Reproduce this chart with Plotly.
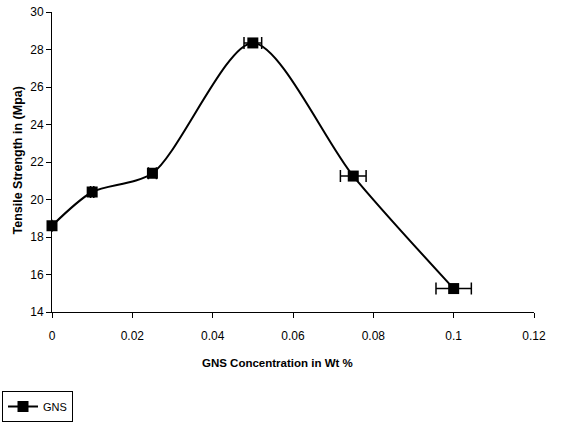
import plotly.graph_objects as go

conc = [0, 0.01, 0.025, 0.05, 0.075, 0.1]
strength = [18.6, 20.4, 21.4, 28.35, 21.25, 15.25]
conc_err = [0, 0.0004, 0.001, 0.0022, 0.0032, 0.0044]
x_ticks = [0, 0.02, 0.04, 0.06, 0.08, 0.1, 0.12]
x_labels = ["0", "0.02", "0.04", "0.06", "0.08", "0.1", "0.12"]
y_ticks = [14, 16, 18, 20, 22, 24, 26, 28, 30]
x_title = "GNS Concentration in Wt %"
y_title = "Tensile Strength in (Mpa)"

fig = go.Figure()
fig.add_trace(go.Scatter(
    x=conc, y=strength, name="GNS", mode="lines+markers",
    line=dict(color="black", width=2, shape="spline", smoothing=0.8),
    marker=dict(symbol="square", size=11, color="black"),
    error_x=dict(type="data", array=conc_err, visible=True, color="black", thickness=1.5, width=6),
    showlegend=True, cliponaxis=False,
))

font = "Liberation Sans, Arial, sans-serif"
fig.update_layout(
    width=564, height=423,
    margin=dict(l=52, r=30, t=12, b=111, autoexpand=False),
    paper_bgcolor="white", plot_bgcolor="white",
    font=dict(family=font, size=12, color="black"),
    xaxis=dict(range=[0, 0.12], tickvals=x_ticks, ticktext=x_labels,
               showline=True, linecolor="black", linewidth=1,
               ticks="outside", ticklen=5, tickcolor="black",
               showgrid=False, zeroline=False, automargin=False,
               ticklabelstandoff=8),
    yaxis=dict(range=[14, 30], tickvals=y_ticks,
               showline=True, linecolor="black", linewidth=1,
               ticks="outside", ticklen=5, tickcolor="black",
               showgrid=False, zeroline=False, automargin=False),
    legend=dict(xref="container", yref="container", x=2/564, y=1-391/423,
                xanchor="left", yanchor="top",
                bordercolor="black", borderwidth=1, bgcolor="white",
                font=dict(size=11)),
    annotations=[
        dict(text="<b>" + x_title + "</b>", xref="paper", yref="paper",
             x=0.467, y=-0.17, xanchor="center", yanchor="middle",
             showarrow=False, font=dict(size=11.5)),
        dict(text="<b>" + y_title + "</b>", xref="paper", yref="paper",
             x=-0.0726, y=0.505, xanchor="center", yanchor="middle",
             textangle=-90, showarrow=False, font=dict(size=12.5)),
    ],
)

fig.write_html("out.html", config={"displayModeBar": False},
               post_script="document.body.style.margin='0px';")
